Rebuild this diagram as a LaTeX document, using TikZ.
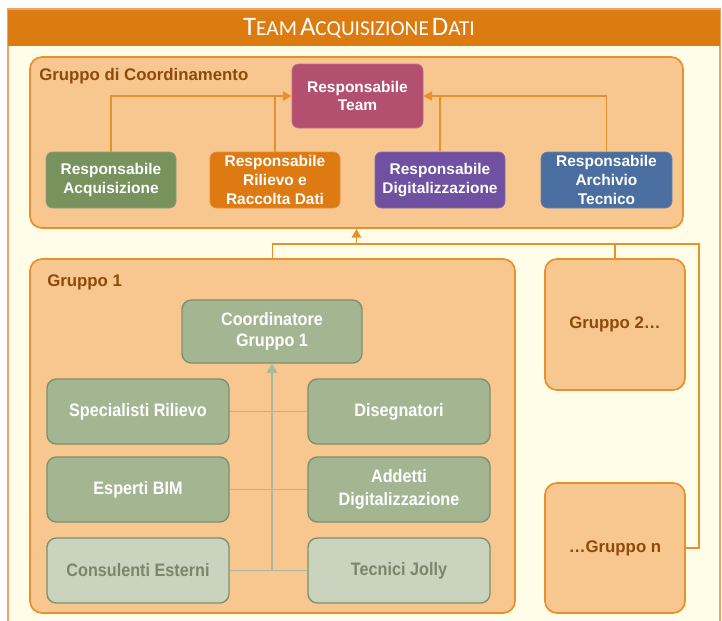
\documentclass[tikz,border=0pt]{standalone}
\usepackage{fontspec}
\setmainfont{Liberation Sans}
\newfontfamily\titlefont{Carlito}
\newfontfamily\narrowfont{Liberation Sans}[FakeStretch=0.9]
\usetikzlibrary{arrows.meta}
\newdimen\px \px=0.75pt
\definecolor{titleor}{HTML}{DC7B0F}
\definecolor{cream}{HTML}{FFFDE8}
\definecolor{framebd}{HTML}{EDA46A}
\definecolor{grpfill}{HTML}{F8C78F}
\definecolor{grpbd}{HTML}{E8902C}
\definecolor{grplab}{HTML}{8E4A0C}
\definecolor{teamcol}{HTML}{B4506F}
\definecolor{acqcol}{HTML}{78925E}
\definecolor{rilcol}{HTML}{DE7A12}
\definecolor{digcol}{HTML}{7050A0}
\definecolor{arccol}{HTML}{4B6EA0}
\definecolor{memfill}{HTML}{A4B592}
\definecolor{membd}{HTML}{7E8F6E}
\definecolor{extfill}{HTML}{CAD3BE}
\definecolor{exttext}{HTML}{7B8669}
\definecolor{gconn}{HTML}{A5BA9F}
\newcommand{\bigsmall}[2]{{\fontsize{20}{21}\selectfont #1}{\fontsize{16}{17}\selectfont #2}}
\begin{document}
\begin{tikzpicture}[x=0.75pt,y=-0.75pt,
  grp/.style={draw=grpbd, fill=grpfill, line width=1.3pt, rounded corners=9pt, inner sep=0pt},
  grplabel/.style={text=grplab, font={\bfseries\fontsize{12.6}{15}\selectfont}, inner sep=0pt, anchor=west},
  lead/.style={fill=#1, draw=#1!85!white, line width=0.6pt, rounded corners=5pt, text=white,
    align=center, minimum width=130\px, minimum height=56\px, inner sep=1pt,
    font={\bfseries\fontsize{11.6}{14.2}\selectfont}},
  member/.style={fill=memfill, draw=membd, line width=1pt, rounded corners=7pt, text=white,
    align=center, minimum width=182\px, minimum height=65\px, inner sep=1pt,
    font={\narrowfont\bfseries\fontsize{13.5}{17.5}\selectfont}},
  extern/.style={member, fill=extfill, text=exttext},
  oline/.style={draw=grpbd, line width=1.1pt},
  oarrow/.style={oline, -{Triangle[width=7pt,length=6.5pt]}},
  gline/.style={draw=gconn, line width=1.3pt},
  garrow/.style={gline, line width=1.6pt, -{Triangle[width=8pt,length=7pt]}}
]
\useasboundingbox (0,0) rectangle (722,621);
\fill[white] (0,0) rectangle (722,621);
% frame and title
\fill[cream] (8,10) rectangle (720,621);
\draw[framebd, line width=0.8pt] (8,621) -- (8,9) -- (720,9) -- (720,621);
\fill[titleor] (8,9.5) rectangle (720,46);
\node[text=white, font=\titlefont, inner sep=0pt] (title) at (359,28)
  {\bigsmall{T}{EAM} \bigsmall{A}{CQUISIZIONE} \bigsmall{D}{ATI}};

% coordination group
\node[grp, minimum width=653\px, minimum height=171\px] (coord) at (356.5,142.5) {};
\node[grplabel] (coordlab) at (39,76) {Gruppo di Coordinamento};
\node[lead=teamcol, minimum width=131\px, minimum height=64\px] (team) at (357.5,96) {Responsabile\\Team};
\node[lead=acqcol] (acq) at (111,180) {Responsabile\\Acquisizione};
\node[lead=rilcol] (ril) at (275,180) {Responsabile\\Rilievo e\\Raccolta Dati};
\node[lead=digcol] (dig) at (440,180) {Responsabile\\Digitalizzazione};
\node[lead=arccol, minimum width=131\px] (arc) at (606.5,180) {Responsabile\\Archivio\\Tecnico};
\draw[oarrow] (acq.north) |- (team.west);
\draw[oline] (ril.north) -- (ril.north |- team.west);
\draw[oarrow] (arc.north) |- (team.east);
\draw[oline] (dig.north) -- (dig.north |- team.east);

% groups
\node[grp, minimum width=485\px, minimum height=354\px] (g1) at (272.5,436) {};
\node[grplabel] (g1lab) at (47,282) {Gruppo 1};
\node[grp, minimum width=140\px, minimum height=131\px, text=grplab,
  font={\bfseries\fontsize{12.6}{15}\selectfont}] (g2) at (615,324.5) {Gruppo 2…};
\node[grp, minimum width=140\px, minimum height=130\px, text=grplab,
  font={\bfseries\fontsize{12.6}{15}\selectfont}] (gn) at (615,548) {…Gruppo n};

\coordinate (bus) at (699,244);
\draw[oline] (g1.north) |- (bus) |- (gn.east);
\draw[oline] (g2.north) -- (g2.north |- bus);
\draw[oarrow] (coord.south |- bus) -- (coord.south);

% group 1 members
\node[member, minimum width=180\px, minimum height=63\px,
  font={\narrowfont\bfseries\fontsize{13.5}{15.5}\selectfont}] (cg1) at (272,331.5) {Coordinatore\\Gruppo 1};
\node[member] (sr) at (138,411.5) {Specialisti Rilievo};
\node[member] (dis) at (399,411.5) {Disegnatori};
\node[member] (bim) at (138,489.5) {Esperti BIM};
\node[member] (add) at (399,489.5) {Addetti\\Digitalizzazione};
\node[extern] (con) at (138,570.5) {Consulenti Esterni};
\node[extern] (tj) at (399,570.5) {Tecnici Jolly};

\draw[gline] (sr.east) -- (dis.west);
\draw[gline] (bim.east) -- (add.west);
\draw[gline] (con.east) -- (tj.west);
\draw[garrow] (con.east -| cg1.south) -- (cg1.south);
\end{tikzpicture}
\end{document}
